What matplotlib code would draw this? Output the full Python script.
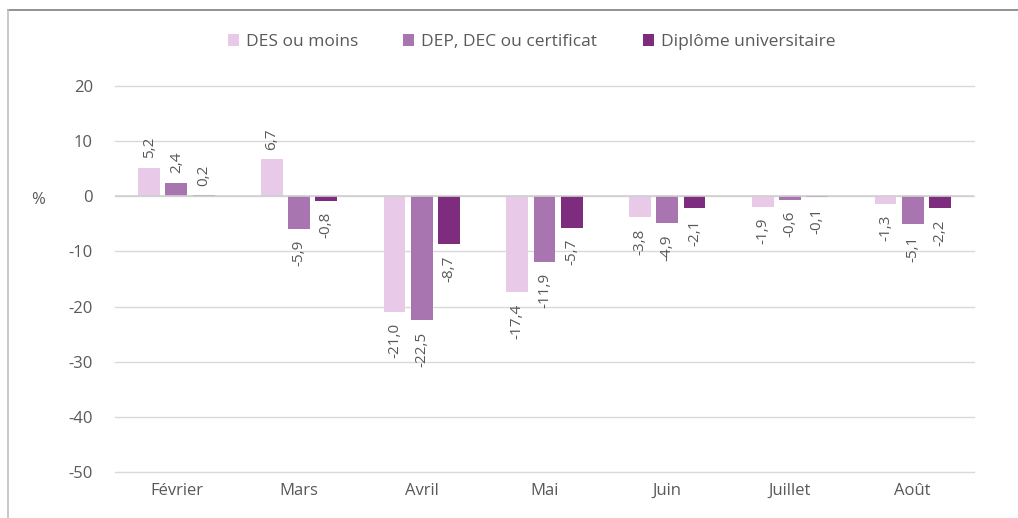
import numpy as np
import matplotlib
matplotlib.use('Agg')
import matplotlib.pyplot as plt
from matplotlib.lines import Line2D
from matplotlib.patches import Patch

plt.rcParams['font.family'] = ['Open Sans', 'DejaVu Sans']

months = ['Février', 'Mars', 'Avril', 'Mai', 'Juin', 'Juillet', 'Août']
series_names = ['DES ou moins', 'DEP, DEC ou certificat', 'Diplôme universitaire']
des = [5.2, 6.7, -21.0, -17.4, -3.8, -1.9, -1.3]
dep = [2.4, -5.9, -22.5, -11.9, -4.9, -0.6, -5.1]
univ = [0.2, -0.8, -8.7, -5.7, -2.1, -0.1, -2.2]
colors = ['#E8C9E8', '#A975B1', '#7E2C7D']
yticks = [20, 10, 0, -10, -20, -30, -40, -50]

text_color = '#595959'

fig = plt.figure(figsize=(10.18, 5.18), dpi=100)
ax = fig.add_axes([0.113, 0.0888, 0.8438, 0.745])

x = np.arange(len(months))
width = 0.178
step = 0.222
for i, (vals, col) in enumerate(zip([des, dep, univ], colors)):
    pos = x + (i - 1) * step
    ax.bar(pos, vals, width=width, color=col, zorder=3)
    for px, v in zip(pos, vals):
        lab = f'{v:.1f}'.replace('.', ',')
        if v >= 0:
            ax.annotate(lab, (px, v), xytext=(0, 7), textcoords='offset points',
                        rotation=90, ha='center', va='bottom', fontsize=11, color=text_color)
        else:
            ax.annotate(lab, (px, v), xytext=(0, -8), textcoords='offset points',
                        rotation=90, ha='center', va='top', fontsize=11, color=text_color)

ax.set_xlim(-0.5, len(months) - 0.5)
ax.set_ylim(-50, 20)
ax.set_yticks(yticks)
ax.set_yticklabels([str(t) for t in yticks])
ax.set_xticks(x)
ax.set_xticklabels(months)
ax.tick_params(axis='both', length=0, labelsize=12, colors=text_color)
ax.tick_params(axis='y', pad=16)
ax.tick_params(axis='x', pad=8)
for s in ax.spines.values():
    s.set_visible(False)
ax.grid(axis='y', color='#D9D9D9', linewidth=1, zorder=0)
for gl in ax.get_ygridlines():
    gl.set_clip_on(False)
ax.axhline(0, color='#D0D0D0', linewidth=1.2, zorder=4)

fig.text(38 / 1018, 1 - 200 / 518, '%', fontsize=12, color=text_color, ha='center', va='center')

handles = [Patch(facecolor=c, edgecolor='none') for c in colors]
fig.legend(handles, series_names, loc='center', bbox_to_anchor=(0.522, 1 - 42 / 518),
           ncol=3, frameon=False, fontsize=12.5, labelcolor=text_color,
           handlelength=0.65, handleheight=0.65, handletextpad=0.4, columnspacing=2.6)

# outer frame
fig.add_artist(Line2D([8 / 1018, 1.0], [1 - 10 / 518, 1 - 10 / 518], color='#7F7F7F', linewidth=1.2))
fig.add_artist(Line2D([8 / 1018, 8 / 1018], [0, 1 - 10 / 518], color='#BFBFBF', linewidth=1.2))

fig.savefig('out.png', dpi=100)
